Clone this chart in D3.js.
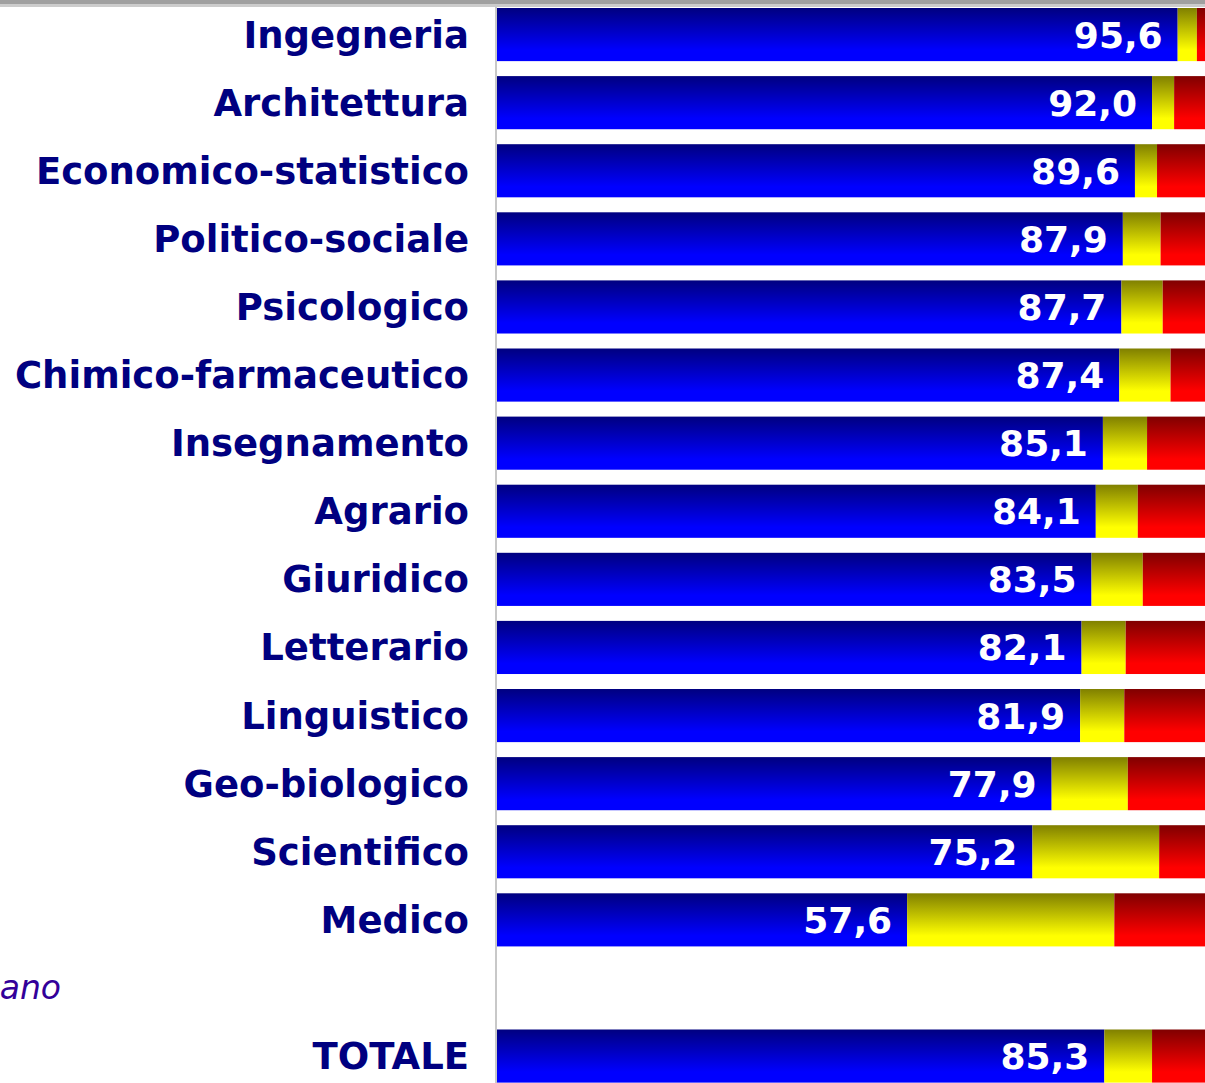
<!DOCTYPE html>
<html>
<head>
<meta charset="utf-8">
<script src="https://cdn.jsdelivr.net/npm/d3@7"></script>
<style>
  body { margin: 0; background: #fff; overflow: hidden; }
  svg { display: block; }
</style>
</head>
<body>
<script>
// categories (empty slot before TOTALE)
var categories = ["Ingegneria", "Architettura", "Economico-statistico", "Politico-sociale",
  "Psicologico", "Chimico-farmaceutico", "Insegnamento", "Agrario", "Giuridico",
  "Letterario", "Linguistico", "Geo-biologico", "Scientifico", "Medico", "", "TOTALE"];

// blue share (labelled), yellow share, red share
var blueVals   = [95.6, 92.0, 89.6, 87.9, 87.7, 87.4, 85.1, 84.1, 83.5, 82.1, 81.9, 77.9, 75.2, 57.6, null, 85.3];
var yellowVals = [2.7, 3.1, 3.1, 5.3, 5.8, 7.2, 6.2, 5.9, 7.2, 6.2, 6.2, 10.7, 17.8, 29.1, null, 6.7];
var redVals    = [1.7, 4.9, 7.3, 6.8, 6.5, 5.4, 8.7, 10.0, 9.3, 11.7, 11.9, 11.4, 7.0, 13.3, null, 8.0];

var noteText = "ano";

var width = 1205, height = 1083;

var svg = d3.select("body")
  .append("svg")
  .attr("width", width)
  .attr("height", height);

// gradients
var defs = svg.append("defs");
var grads = [["blue", "#000080", "#0000ff"], ["yellow", "#808000", "#ffff00"], ["red", "#800000", "#ff0000"]];
grads.forEach(function (g) {
  var lg = defs.append("linearGradient")
    .attr("id", "g-" + g[0])
    .attr("x1", 0).attr("y1", 0).attr("x2", 0).attr("y2", 1);
  lg.append("stop").attr("offset", "0%").attr("stop-color", g[1]);
  lg.append("stop").attr("offset", "80%").attr("stop-color", g[2]);
  lg.append("stop").attr("offset", "100%").attr("stop-color", g[2]);
});

var rows = categories.map(function (c, i) {
  return { cat: c, blue: blueVals[i] || 0, yellow: yellowVals[i] || 0, red: redVals[i] || 0, has: blueVals[i] != null };
});

var y = d3.scaleBand()
  .domain(d3.range(categories.length))
  .range([8, 8 + 68.1 * categories.length - 0.22 * 68.1])
  .paddingInner(0.22)
  .paddingOuter(0);

var x = d3.scaleLinear()
  .domain([0, 100])
  .range([497, 1209]);

var stack = d3.stack().keys(["blue", "yellow", "red"]);
var series = stack(rows.filter(function (r) { return r.has; }));

var idx = function (r) { return categories.indexOf(r.cat); };

svg.append("g")
  .selectAll("g")
  .data(series)
  .join("g")
  .attr("fill", function (s) { return "url(#g-" + s.key + ")"; })
  .selectAll("rect")
  .data(function (s) { return s; })
  .join("rect")
  .attr("x", function (d) { return x(d[0]); })
  .attr("y", function (d) { return y(idx(d.data)); })
  .attr("width", function (d) { return x(d[1]) - x(d[0]); })
  .attr("height", y.bandwidth());

// value labels
svg.append("g")
  .selectAll("text")
  .data(rows.filter(function (r) { return r.has; }))
  .join("text")
  .attr("x", function (d) { return x(d.blue) - 15; })
  .attr("y", function (d) { return y(idx(d)) + y.bandwidth() / 2 + 13; })
  .attr("text-anchor", "end")
  .attr("fill", "#ffffff")
  .style("font-family", "'DejaVu Sans', Verdana, sans-serif")
  .style("font-weight", "bold")
  .style("font-size", "36px")
  .text(function (d) { return d3.format(".1f")(d.blue).replace(".", ","); });

// category labels
svg.append("g")
  .selectAll("text")
  .data(rows.filter(function (r) { return r.cat !== ""; }))
  .join("text")
  .attr("x", 469)
  .attr("y", function (d) { return y(idx(d)) + y.bandwidth() / 2 + 13; })
  .attr("text-anchor", "end")
  .attr("fill", "#000080")
  .style("font-family", "'DejaVu Sans', Verdana, sans-serif")
  .style("font-weight", "bold")
  .style("font-size", "37px")
  .text(function (d) { return d.cat; });

// note text in the empty slot (cut at the left edge)
svg.append("text")
  .attr("x", 61)
  .attr("y", y(14) + y.bandwidth() / 2 + 11)
  .attr("text-anchor", "end")
  .attr("fill", "#330099")
  .style("font-family", "'DejaVu Sans', Verdana, sans-serif")
  .style("font-style", "italic")
  .style("font-size", "33px")
  .text(noteText);

// left axis line
svg.append("line")
  .attr("x1", 496).attr("y1", 0)
  .attr("x2", 496).attr("y2", height)
  .attr("stroke", "#c8c8c8")
  .attr("stroke-width", 2);

// grey strip at the top
svg.append("rect")
  .attr("x", 0).attr("y", 0)
  .attr("width", width).attr("height", 4)
  .attr("fill", "#a0a0a0");
svg.append("rect")
  .attr("x", 0).attr("y", 4)
  .attr("width", width).attr("height", 3)
  .attr("fill", "#cccccc");
</script>
</body>
</html>
